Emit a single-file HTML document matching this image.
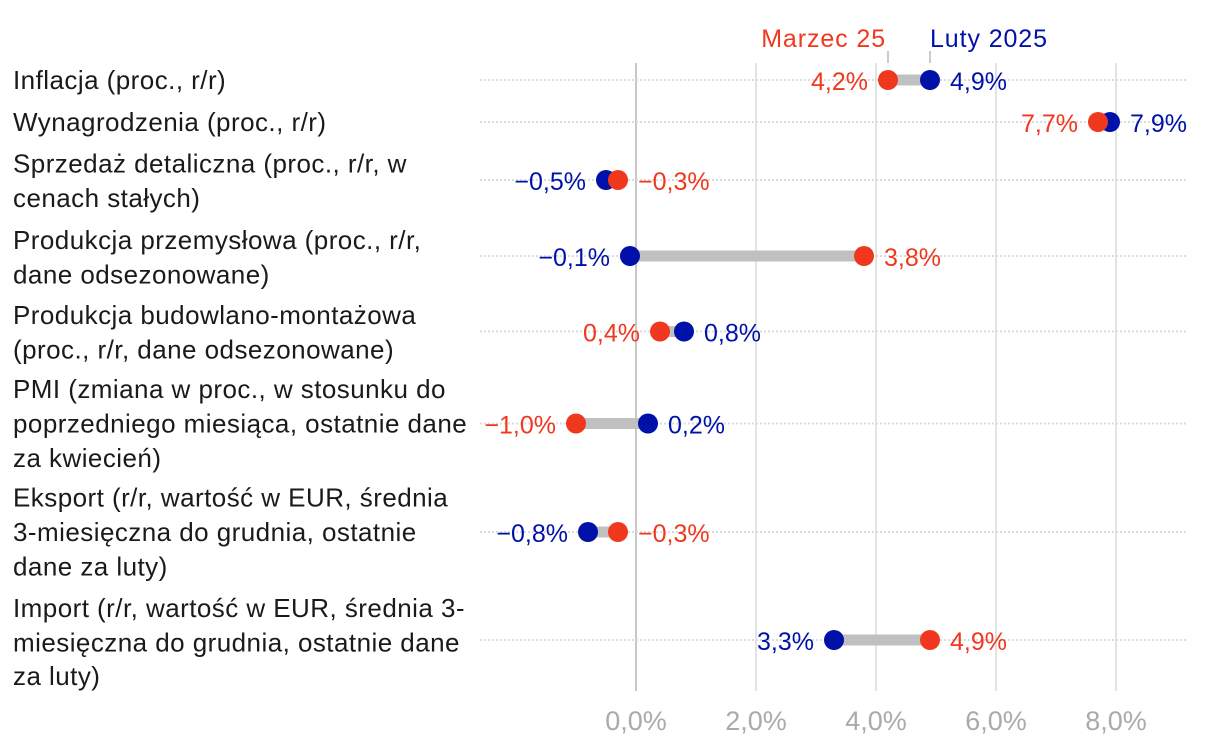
<!DOCTYPE html>
<html>
<head>
<meta charset="utf-8">
<style>
html,body{margin:0;padding:0;background:#fff;}
svg{display:block;}
.lbl{font-family:"Liberation Sans",sans-serif;font-size:26px;letter-spacing:0.45px;fill:#1a1a1a;}
.val{font-family:"Liberation Sans",sans-serif;font-size:25px;}
.tick{font-family:"Liberation Sans",sans-serif;font-size:27px;fill:#aaaaaa;}
.r{fill:#f0381f;}
.b{fill:#0011aa;}
</style>
</head>
<body>
<svg width="1220" height="744" viewBox="0 0 1220 744" xmlns="http://www.w3.org/2000/svg">
  <g stroke="#e3e3e3" stroke-width="2">
    <line x1="756" y1="63" x2="756" y2="691"/>
    <line x1="876" y1="63" x2="876" y2="691"/>
    <line x1="996" y1="63" x2="996" y2="691"/>
    <line x1="1116" y1="63" x2="1116" y2="691"/>
  </g>
  <line x1="636" y1="63" x2="636" y2="691" stroke="#c8c8c8" stroke-width="2"/>
  <g stroke="#dcdcdc" stroke-width="2" stroke-dasharray="2 2">
    <line x1="480" y1="80" x2="1186" y2="80"/>
    <line x1="480" y1="122" x2="1186" y2="122"/>
    <line x1="480" y1="180" x2="1186" y2="180"/>
    <line x1="480" y1="256" x2="1186" y2="256"/>
    <line x1="480" y1="331.5" x2="1186" y2="331.5"/>
    <line x1="480" y1="423.5" x2="1186" y2="423.5"/>
    <line x1="480" y1="532" x2="1186" y2="532"/>
    <line x1="480" y1="640" x2="1186" y2="640"/>
  </g>
  <g stroke="#999" stroke-width="1">
    <line x1="888" y1="51" x2="888" y2="63"/>
    <line x1="930" y1="51" x2="930" y2="63"/>
  </g>
  <text class="val r" x="886" y="47" text-anchor="end" letter-spacing="0.9">Marzec 25</text>
  <text class="val b" x="930" y="47" letter-spacing="0.9">Luty 2025</text>

  <g stroke="#c0c0c0" stroke-width="11">
    <line x1="888" y1="80" x2="930" y2="80"/>
    <line x1="1098" y1="122" x2="1110" y2="122"/>
    <line x1="606" y1="180" x2="618" y2="180"/>
    <line x1="630" y1="256" x2="864" y2="256"/>
    <line x1="660" y1="331.5" x2="684" y2="331.5"/>
    <line x1="576" y1="423.5" x2="648" y2="423.5"/>
    <line x1="588" y1="532" x2="618" y2="532"/>
    <line x1="834" y1="640" x2="930" y2="640"/>
  </g>
  <g class="b">
    <circle cx="930" cy="80" r="10"/>
    <circle cx="1110" cy="122" r="10"/>
    <circle cx="606" cy="180" r="10"/>
    <circle cx="630" cy="256" r="10"/>
    <circle cx="684" cy="331.5" r="10"/>
    <circle cx="648" cy="423.5" r="10"/>
    <circle cx="588" cy="532" r="10"/>
    <circle cx="834" cy="640" r="10"/>
  </g>
  <g class="r">
    <circle cx="888" cy="80" r="10"/>
    <circle cx="1098" cy="122" r="10"/>
    <circle cx="618" cy="180" r="10"/>
    <circle cx="864" cy="256" r="10"/>
    <circle cx="660" cy="331.5" r="10"/>
    <circle cx="576" cy="423.5" r="10"/>
    <circle cx="618" cy="532" r="10"/>
    <circle cx="930" cy="640" r="10"/>
  </g>

  <text class="val r" x="868" y="90" text-anchor="end">4,2%</text>
  <text class="val b" x="950" y="90">4,9%</text>
  <text class="val r" x="1078" y="132" text-anchor="end">7,7%</text>
  <text class="val b" x="1130" y="132">7,9%</text>
  <text class="val b" x="586" y="190" text-anchor="end">−0,5%</text>
  <text class="val r" x="638" y="190">−0,3%</text>
  <text class="val b" x="610" y="266" text-anchor="end">−0,1%</text>
  <text class="val r" x="884" y="266">3,8%</text>
  <text class="val r" x="640" y="341.5" text-anchor="end">0,4%</text>
  <text class="val b" x="704" y="341.5">0,8%</text>
  <text class="val r" x="556" y="433.5" text-anchor="end">−1,0%</text>
  <text class="val b" x="668" y="433.5">0,2%</text>
  <text class="val b" x="568" y="542" text-anchor="end">−0,8%</text>
  <text class="val r" x="638" y="542">−0,3%</text>
  <text class="val b" x="814" y="650" text-anchor="end">3,3%</text>
  <text class="val r" x="950" y="650">4,9%</text>

  <text class="tick" x="636" y="730" text-anchor="middle">0,0%</text>
  <text class="tick" x="756" y="730" text-anchor="middle">2,0%</text>
  <text class="tick" x="876" y="730" text-anchor="middle">4,0%</text>
  <text class="tick" x="996" y="730" text-anchor="middle">6,0%</text>
  <text class="tick" x="1116" y="730" text-anchor="middle">8,0%</text>

  <text class="lbl" x="13" y="89">Inflacja (proc., r/r)</text>
  <text class="lbl" x="13" y="131">Wynagrodzenia (proc., r/r)</text>
  <text class="lbl" x="13" y="172.5">Sprzedaż detaliczna (proc., r/r, w</text>
  <text class="lbl" x="13" y="207">cenach stałych)</text>
  <text class="lbl" x="13" y="249">Produkcja przemysłowa (proc., r/r,</text>
  <text class="lbl" x="13" y="283.5">dane odsezonowane)</text>
  <text class="lbl" x="13" y="324">Produkcja budowlano-montażowa</text>
  <text class="lbl" x="13" y="358.5">(proc., r/r, dane odsezonowane)</text>
  <text class="lbl" x="13" y="398">PMI (zmiana w proc., w stosunku do</text>
  <text class="lbl" x="13" y="432.5">poprzedniego miesiąca, ostatnie dane</text>
  <text class="lbl" x="13" y="467">za kwiecień)</text>
  <text class="lbl" x="13" y="506.5">Eksport (r/r, wartość w EUR, średnia</text>
  <text class="lbl" x="13" y="541">3-miesięczna do grudnia, ostatnie</text>
  <text class="lbl" x="13" y="575.5">dane za luty)</text>
  <text class="lbl" x="13" y="617">Import (r/r, wartość w EUR, średnia 3-</text>
  <text class="lbl" x="13" y="651.5">miesięczna do grudnia, ostatnie dane</text>
  <text class="lbl" x="13" y="685">za luty)</text>
</svg>
</body>
</html>
